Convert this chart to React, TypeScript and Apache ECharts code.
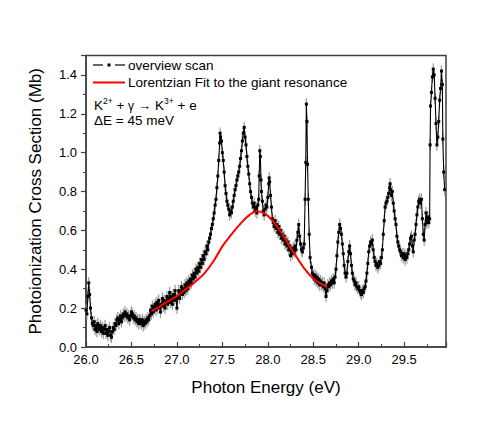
import React, { useEffect, useRef } from "react";
import * as echarts from "echarts";

// Overview scan: [photon energy (eV), cross section (Mb)]
const scanPoints: [number, number][] = [
  [26.0, 0.19], [26.01, 0.17], [26.02, 0.26], [26.03, 0.33], [26.04, 0.27], [26.05, 0.2], [26.06, 0.15], [26.07, 0.12],
  [26.08, 0.11], [26.09, 0.13], [26.1, 0.09], [26.11, 0.11], [26.12, 0.08], [26.13, 0.12], [26.14, 0.1], [26.15, 0.09],
  [26.16, 0.11], [26.17, 0.08], [26.18, 0.1], [26.19, 0.07], [26.2, 0.09], [26.21, 0.11], [26.22, 0.07], [26.23, 0.09],
  [26.24, 0.06], [26.25, 0.08], [26.26, 0.1], [26.27, 0.06], [26.28, 0.05], [26.29, 0.08], [26.3, 0.1], [26.31, 0.09],
  [26.32, 0.12], [26.33, 0.11], [26.34, 0.14], [26.35, 0.15], [26.36, 0.12], [26.37, 0.14], [26.38, 0.16], [26.39, 0.13],
  [26.4, 0.15], [26.41, 0.17], [26.42, 0.16], [26.43, 0.18], [26.44, 0.16], [26.45, 0.17], [26.46, 0.15], [26.47, 0.16],
  [26.48, 0.14], [26.49, 0.16], [26.5, 0.18], [26.51, 0.17], [26.52, 0.15], [26.53, 0.16], [26.54, 0.14], [26.55, 0.15],
  [26.56, 0.13], [26.57, 0.14], [26.58, 0.12], [26.59, 0.14], [26.6, 0.13], [26.61, 0.12], [26.62, 0.14], [26.63, 0.11],
  [26.64, 0.13], [26.65, 0.12], [26.66, 0.14], [26.67, 0.13], [26.68, 0.15], [26.69, 0.14], [26.7, 0.16], [26.71, 0.19],
  [26.72, 0.17], [26.73, 0.21], [26.74, 0.18], [26.75, 0.2], [26.76, 0.22], [26.77, 0.19], [26.78, 0.23], [26.79, 0.2],
  [26.8, 0.24], [26.81, 0.21], [26.82, 0.18], [26.83, 0.22], [26.84, 0.25], [26.85, 0.21], [26.86, 0.24], [26.87, 0.2],
  [26.88, 0.23], [26.89, 0.26], [26.9, 0.22], [26.91, 0.25], [26.92, 0.28], [26.93, 0.23], [26.94, 0.26], [26.95, 0.22],
  [26.96, 0.27], [26.97, 0.24], [26.98, 0.29], [26.99, 0.25], [27.0, 0.2], [27.01, 0.26], [27.02, 0.29], [27.03, 0.25],
  [27.04, 0.28], [27.05, 0.31], [27.06, 0.27], [27.07, 0.3], [27.08, 0.28], [27.09, 0.32], [27.1, 0.29], [27.11, 0.33],
  [27.12, 0.3], [27.13, 0.34], [27.14, 0.32], [27.15, 0.35], [27.16, 0.33], [27.17, 0.37], [27.18, 0.35], [27.19, 0.38],
  [27.2, 0.36], [27.21, 0.4], [27.22, 0.38], [27.23, 0.41], [27.24, 0.39], [27.25, 0.43], [27.26, 0.41], [27.27, 0.45],
  [27.28, 0.43], [27.29, 0.47], [27.3, 0.45], [27.31, 0.49], [27.32, 0.48], [27.33, 0.52], [27.34, 0.5], [27.35, 0.54],
  [27.36, 0.56], [27.37, 0.58], [27.38, 0.61], [27.39, 0.63], [27.4, 0.66], [27.41, 0.69], [27.42, 0.73], [27.43, 0.76],
  [27.44, 0.82], [27.45, 0.88], [27.46, 0.96], [27.47, 1.05], [27.475, 1.1], [27.48, 1.08], [27.49, 1.06], [27.5, 1.0],
  [27.51, 0.96], [27.52, 0.9], [27.53, 0.83], [27.54, 0.79], [27.55, 0.75], [27.56, 0.73], [27.57, 0.71], [27.58, 0.68],
  [27.59, 0.7], [27.6, 0.69], [27.61, 0.72], [27.62, 0.75], [27.63, 0.78], [27.64, 0.81], [27.65, 0.83], [27.66, 0.86],
  [27.67, 0.88], [27.68, 0.9], [27.69, 0.93], [27.7, 0.97], [27.71, 1.01], [27.72, 1.06], [27.73, 1.1], [27.74, 1.13],
  [27.75, 1.08], [27.76, 1.04], [27.77, 0.98], [27.78, 0.93], [27.79, 0.89], [27.8, 0.84], [27.81, 0.8], [27.82, 0.77],
  [27.83, 0.74], [27.84, 0.72], [27.85, 0.74], [27.86, 0.7], [27.87, 0.72], [27.88, 0.69], [27.89, 0.73], [27.9, 0.76],
  [27.905, 0.88], [27.912, 1.01], [27.918, 0.98], [27.925, 0.86], [27.93, 0.8], [27.94, 0.75], [27.95, 0.7], [27.96, 0.68],
  [27.97, 0.71], [27.98, 0.73], [27.99, 0.72], [28.0, 0.77], [28.01, 0.84], [28.015, 0.87], [28.02, 0.85], [28.03, 0.78],
  [28.04, 0.72], [28.05, 0.66], [28.06, 0.64], [28.07, 0.62], [28.08, 0.65], [28.09, 0.61], [28.1, 0.63], [28.11, 0.59],
  [28.12, 0.62], [28.13, 0.58], [28.14, 0.6], [28.15, 0.56], [28.16, 0.58], [28.17, 0.55], [28.18, 0.57], [28.19, 0.53],
  [28.2, 0.55], [28.21, 0.52], [28.22, 0.54], [28.23, 0.5], [28.24, 0.52], [28.25, 0.47], [28.26, 0.5], [28.27, 0.48],
  [28.28, 0.51], [28.29, 0.49], [28.3, 0.52], [28.31, 0.5], [28.32, 0.55], [28.33, 0.59], [28.34, 0.63], [28.35, 0.57],
  [28.36, 0.53], [28.37, 0.5], [28.38, 0.49], [28.39, 0.51], [28.4, 0.53], [28.41, 0.76], [28.417, 0.95], [28.424, 1.25],
  [28.43, 1.16], [28.437, 0.94], [28.445, 0.76], [28.455, 0.58], [28.465, 0.46], [28.48, 0.41], [28.49, 0.38], [28.5, 0.37],
  [28.51, 0.35], [28.52, 0.37], [28.53, 0.34], [28.54, 0.36], [28.55, 0.33], [28.56, 0.35], [28.57, 0.32], [28.58, 0.34],
  [28.59, 0.32], [28.6, 0.33], [28.61, 0.31], [28.62, 0.33], [28.63, 0.3], [28.64, 0.26], [28.65, 0.29], [28.66, 0.32],
  [28.67, 0.31], [28.68, 0.33], [28.69, 0.32], [28.7, 0.34], [28.71, 0.33], [28.72, 0.35], [28.73, 0.33], [28.74, 0.36],
  [28.75, 0.4], [28.76, 0.47], [28.77, 0.54], [28.78, 0.59], [28.79, 0.63], [28.8, 0.61], [28.81, 0.58], [28.82, 0.53],
  [28.83, 0.48], [28.84, 0.42], [28.85, 0.38], [28.86, 0.36], [28.87, 0.38], [28.88, 0.44], [28.89, 0.49], [28.9, 0.52],
  [28.91, 0.48], [28.92, 0.42], [28.93, 0.38], [28.94, 0.35], [28.95, 0.34], [28.96, 0.32], [28.97, 0.33], [28.98, 0.31],
  [28.99, 0.3], [29.0, 0.31], [29.01, 0.29], [29.02, 0.28], [29.03, 0.27], [29.04, 0.29], [29.05, 0.28], [29.06, 0.3],
  [29.07, 0.31], [29.08, 0.34], [29.09, 0.38], [29.1, 0.43], [29.11, 0.49], [29.12, 0.52], [29.13, 0.54], [29.14, 0.53],
  [29.15, 0.55], [29.16, 0.5], [29.17, 0.46], [29.18, 0.44], [29.19, 0.42], [29.2, 0.43], [29.21, 0.41], [29.22, 0.42],
  [29.23, 0.44], [29.24, 0.43], [29.25, 0.46], [29.26, 0.5], [29.27, 0.58], [29.28, 0.65], [29.29, 0.72], [29.3, 0.74],
  [29.31, 0.75], [29.32, 0.77], [29.33, 0.79], [29.34, 0.82], [29.345, 0.84], [29.35, 0.81], [29.36, 0.78], [29.37, 0.8],
  [29.38, 0.74], [29.39, 0.7], [29.4, 0.66], [29.41, 0.63], [29.42, 0.57], [29.43, 0.54], [29.44, 0.52], [29.45, 0.5],
  [29.46, 0.49], [29.47, 0.47], [29.48, 0.48], [29.49, 0.46], [29.5, 0.48], [29.51, 0.45], [29.52, 0.47], [29.53, 0.46],
  [29.54, 0.48], [29.55, 0.5], [29.56, 0.53], [29.57, 0.56], [29.58, 0.57], [29.59, 0.52], [29.6, 0.49], [29.61, 0.55],
  [29.62, 0.58], [29.63, 0.63], [29.64, 0.68], [29.65, 0.72], [29.66, 0.75], [29.67, 0.76], [29.68, 0.74], [29.69, 0.76],
  [29.7, 0.66], [29.71, 0.58], [29.72, 0.55], [29.73, 0.63], [29.74, 0.69], [29.75, 0.64], [29.76, 0.67], [29.77, 0.64],
  [29.78, 0.66], [29.785, 1.04], [29.79, 1.24], [29.8, 1.31], [29.81, 1.39], [29.82, 1.43], [29.83, 1.4], [29.84, 1.28],
  [29.85, 1.15], [29.86, 1.04], [29.87, 1.08], [29.88, 1.16], [29.89, 1.27], [29.9, 1.33], [29.91, 1.42], [29.92, 1.35],
  [29.925, 1.07], [29.935, 0.9], [29.945, 0.81],
];

// Half-length of the statistical error bars (Mb)
const scanError = 0.03;

// Lorentzian fit to the giant resonance: [photon energy (eV), cross section (Mb)]
const fitPoints: [number, number][] = [
  [26.72, 0.185], [26.8, 0.205], [26.9, 0.235], [27.0, 0.262], [27.1, 0.298], [27.2, 0.335],
  [27.3, 0.378], [27.4, 0.44], [27.5, 0.518], [27.6, 0.58], [27.7, 0.635], [27.8, 0.68],
  [27.88, 0.698], [27.95, 0.69], [28.0, 0.675], [28.1, 0.622], [28.2, 0.55], [28.3, 0.475],
  [28.4, 0.405], [28.5, 0.352], [28.6, 0.322], [28.65, 0.31],
];

const legendLabels = ["overview scan", "Lorentzian Fit to the giant resonance"];
const xAxisTitle = "Photon Energy (eV)";
const yAxisTitle = "Photoionization Cross Section (Mb)";

const FONT = "'Liberation Sans', Arial, Helvetica, sans-serif";
const AXIS_COLOR = "#404040";

export default function App() {
  const ref = useRef<HTMLDivElement>(null);

  useEffect(() => {
    if (!ref.current) return;
    const chart = echarts.init(ref.current, undefined, { renderer: "svg" });
    const errData = scanPoints.map(([e, v]) => [e, v - scanError, v + scanError]);

    chart.setOption({
      animation: false,
      backgroundColor: "#ffffff",
      textStyle: { fontFamily: FONT, color: "#000" },
      grid: {
        left: 86,
        right: 52,
        top: 55.5,
        bottom: 78,
        show: true,
        borderColor: AXIS_COLOR,
        borderWidth: 1.5,
        backgroundColor: "transparent",
      },
      xAxis: {
        type: "value",
        min: 26,
        max: 29.96,
        interval: 0.5,
        name: xAxisTitle,
        nameLocation: "middle",
        nameGap: 32,
        nameTextStyle: { fontSize: 17, color: "#000", fontFamily: FONT },
        axisLine: { show: true, lineStyle: { color: AXIS_COLOR, width: 1.5 } },
        axisTick: { show: true, inside: true, length: 5, lineStyle: { color: AXIS_COLOR, width: 1.2 } },
        minorTick: { show: true, splitNumber: 2, length: 3, lineStyle: { color: AXIS_COLOR, width: 1 } },
        splitLine: { show: false },
        minorSplitLine: { show: false },
        axisLabel: {
          color: "#000",
          fontSize: 13,
          margin: 6,
          showMaxLabel: false,
          formatter: (v: number) => v.toFixed(1),
        },
      },
      yAxis: {
        type: "value",
        min: 0,
        max: 1.5,
        interval: 0.2,
        name: yAxisTitle,
        nameLocation: "middle",
        nameGap: 42,
        nameRotate: 90,
        nameTextStyle: { fontSize: 17, color: "#000", fontFamily: FONT },
        axisLine: { show: true, lineStyle: { color: AXIS_COLOR, width: 1.5 } },
        axisTick: { show: true, inside: false, length: 5, lineStyle: { color: AXIS_COLOR, width: 1.2 } },
        minorTick: { show: true, splitNumber: 2, length: 3, lineStyle: { color: AXIS_COLOR, width: 1 } },
        splitLine: { show: false },
        minorSplitLine: { show: false },
        axisLabel: {
          color: "#000",
          fontSize: 13,
          margin: 9,
          showMaxLabel: false,
          formatter: (v: number) => v.toFixed(1),
        },
      },
      series: [
        {
          type: "custom",
          name: "error",
          silent: true,
          z: 1,
          encode: { x: 0, y: [1, 2] },
          data: errData,
          renderItem: (params: any, api: any) => {
            const x = api.value(0);
            const p1 = api.coord([x, api.value(1)]);
            const p2 = api.coord([x, api.value(2)]);
            return {
              type: "line",
              shape: { x1: p1[0], y1: p1[1], x2: p2[0], y2: p2[1] },
              style: { stroke: "#9a9a9a", lineWidth: 1.2 },
            };
          },
        },
        {
          type: "line",
          name: legendLabels[0],
          data: scanPoints,
          z: 2,
          symbol: "rect",
          symbolSize: 3,
          showSymbol: true,
          showAllSymbol: true,
          itemStyle: { color: "#000" },
          lineStyle: { color: "#000", width: 1.1 },
        },
        {
          type: "line",
          name: legendLabels[1],
          data: fitPoints,
          z: 3,
          smooth: 0.4,
          symbol: "none",
          lineStyle: { color: "#ff0000", width: 2 },
        },
      ],
      graphic: [
        { type: "line", shape: { x1: 93, y1: 65, x2: 103, y2: 65 }, style: { stroke: "#000", lineWidth: 1.2 } },
        { type: "rect", shape: { x: 107.5, y: 63.5, width: 3, height: 3 }, style: { fill: "#000" } },
        { type: "line", shape: { x1: 115, y1: 65, x2: 125, y2: 65 }, style: { stroke: "#000", lineWidth: 1.2 } },
        { type: "line", shape: { x1: 93, y1: 82.5, x2: 125, y2: 82.5 }, style: { stroke: "#ff0000", lineWidth: 2 } },
        {
          type: "text",
          x: 128,
          y: 65,
          style: { text: legendLabels[0], fontSize: 13.5, fontFamily: FONT, fill: "#000", verticalAlign: "middle" },
        },
        {
          type: "text",
          x: 128,
          y: 82.5,
          style: { text: legendLabels[1], fontSize: 13.5, fontFamily: FONT, fill: "#000", verticalAlign: "middle" },
        },
        {
          type: "text",
          x: 94,
          y: 96,
          style: {
            text: "{n|K}{s|2+}{n| + }{g|γ}{n| → K}{s|3+}{n| + e}",
            fontFamily: FONT,
            fill: "#000",
            verticalAlign: "top",
            rich: {
              n: { fontSize: 13.5, fontFamily: FONT, fill: "#000", lineHeight: 16, verticalAlign: "bottom" },
              g: { fontSize: 12, fontFamily: FONT, fill: "#000", lineHeight: 16, verticalAlign: "bottom" },
              s: { fontSize: 8.5, fontFamily: FONT, fill: "#000", lineHeight: 16, verticalAlign: "top" },
            },
          },
        },
        {
          type: "text",
          x: 94,
          y: 120,
          style: { text: "ΔE = 45 meV", fontSize: 13.5, fontFamily: FONT, fill: "#000", verticalAlign: "middle" },
        },
      ],
    });

    return () => chart.dispose();
  }, []);

  return (
    <div
      ref={ref}
      style={{ position: "fixed", left: 0, top: 0, width: 498, height: 425, background: "#fff" }}
    />
  );
}
